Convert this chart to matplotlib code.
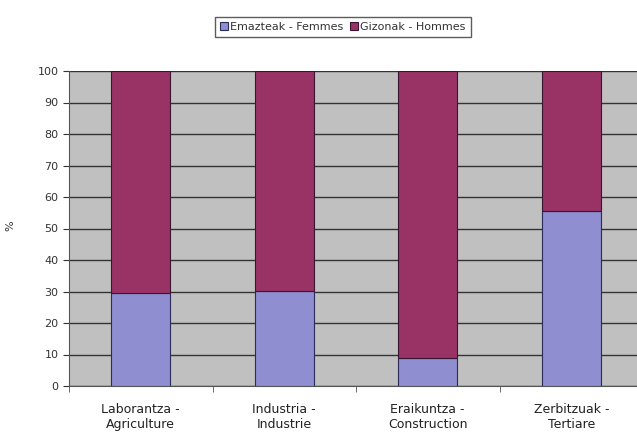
import matplotlib
matplotlib.use("Agg")
import matplotlib.pyplot as plt
import numpy as np

categories = ["Laborantza -\nAgriculture", "Industria -\nIndustrie",
              "Eraikuntza -\nConstruction", "Zerbitzuak -\nTertiare"]
femmes = [29.6, 30.3, 9.0, 55.7]
hommes = [100 - v for v in femmes]
series_names = ["Emazteak - Femmes", "Gizonak - Hommes"]
yticks = list(range(0, 101, 10))

W, H = 637, 445
fig = plt.figure(figsize=(W/100, H/100), dpi=100)
fig.patch.set_facecolor("white")
ax = fig.add_axes([69/W, 1-386/H, (643-69)/W, (386-71)/H])
ax.set_facecolor("#C0C0C0")
x = np.arange(len(categories))
bw = 0.41
ax.bar(x, femmes, bw, color="#8E8ED0", edgecolor="#2B2B5A", linewidth=0.8,
       label=series_names[0], zorder=3)
ax.bar(x, hommes, bw, bottom=femmes, color="#993366", edgecolor="#3A1530",
       linewidth=0.8, label=series_names[1], zorder=3)
ax.set_ylim(0, 100)
ax.set_xlim(-0.5, 3.5)
ax.set_yticks(yticks)
ax.yaxis.grid(True, color="#333333", linewidth=1.0, zorder=1)
ax.set_axisbelow(True)
ax.set_xticks(x)
ax.set_xticklabels(categories, fontsize=9, color="#222222")
ax.set_xticks(np.arange(-0.5, 3.6, 1), minor=True)
ax.tick_params(axis="x", which="major", length=0, pad=12)
ax.tick_params(axis="x", which="minor", length=4, color="#555555")
ax.tick_params(axis="y", labelsize=8, colors="#333333", length=4)
for s in ["top", "right"]:
    ax.spines[s].set_visible(False)
ax.spines["left"].set_color("#555555")
ax.spines["bottom"].set_color("#555555")
ax.set_ylabel("%", fontsize=8, color="#333333", rotation=90)
ax.yaxis.set_label_coords(-(69-15)/(643-69), 0.51)
leg = fig.legend(loc="center", bbox_to_anchor=(343/W, 1-27/H), ncol=2,
                 fontsize=8, frameon=True, fancybox=False, edgecolor="#333333",
                 handlelength=0.7, handleheight=0.7, handletextpad=0.2,
                 columnspacing=0.6, borderpad=0.45)
for t in leg.get_texts():
    t.set_color("#333333")
fig.savefig("out.png", dpi=100)
